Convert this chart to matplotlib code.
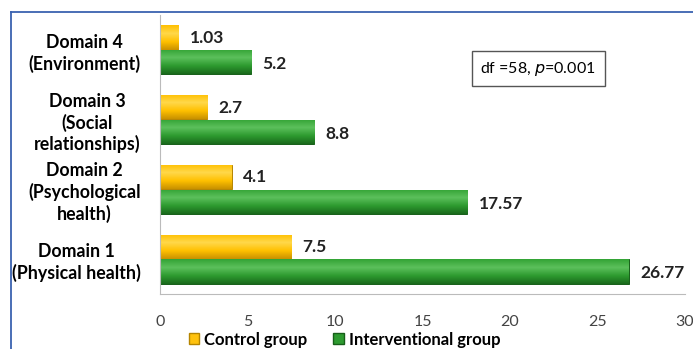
import numpy as np
import matplotlib.pyplot as plt
from matplotlib.lines import Line2D
from matplotlib.patches import Patch
from matplotlib.colors import LinearSegmentedColormap

plt.rcParams['font.family'] = ['Lato', 'DejaVu Sans']

domains = ['Domain 1\n(Physical health)', 'Domain 2\n(Psychological\nhealth)',
           'Domain 3\n(Social\nrelationships)', 'Domain 4\n(Environment)']
control = [7.5, 4.1, 2.7, 1.03]
interventional = [26.77, 17.57, 8.8, 5.2]
control_lbl = ['7.5', '4.1', '2.7', '1.03']
interv_lbl = ['26.77', '17.57', '8.8', '5.2']

yellow, green = '#FFC20E', '#2E9B30'
cm_yellow = LinearSegmentedColormap.from_list('y', ['#C99200', '#FFC000', '#FFD84A', '#FFC000'])
cm_green = LinearSegmentedColormap.from_list('g', ['#1A6A1C', '#2E9B30', '#5CC05C', '#33A335'])

fig = plt.figure(figsize=(6.93, 3.49), dpi=100)
ax = fig.add_axes([0.2309, 0.1576, 0.7576, 0.7994])

y = np.arange(len(domains))
h = 0.345
b1 = ax.barh(y + h / 2 + 0.005, control, height=h, color=yellow, edgecolor='#B58500', linewidth=0.7)
b2 = ax.barh(y - h / 2 - 0.005, interventional, height=h, color=green, edgecolor='#175E19', linewidth=0.7)

# shaded fill to mimic the 3-D look of the original bars
grad = np.linspace(0, 1, 64).reshape(-1, 1)
for bars, cm in [(b1, cm_yellow), (b2, cm_green)]:
    for p in bars:
        x0, y0 = p.get_x(), p.get_y()
        im = ax.imshow(grad, cmap=cm, aspect='auto', origin='lower',
                       extent=[x0, x0 + p.get_width(), y0, y0 + p.get_height()], zorder=p.get_zorder())
        im.set_clip_path(p)

for i in range(len(domains)):
    ax.text(control[i] + 0.65, y[i] + h / 2, control_lbl[i], va='center', ha='left',
            fontsize=12.5, fontweight='bold', color='#222222')
    ax.text(interventional[i] + 0.65, y[i] - h / 2 - 0.03, interv_lbl[i], va='center', ha='left',
            fontsize=12.5, fontweight='bold', color='#222222')

ax.set_xlim(0, 30)
ax.set_ylim(-0.5, 3.5)
ax.set_xticks([0, 5, 10, 15, 20, 25, 30])
ax.set_yticks(y)
ax.set_yticklabels(domains, fontsize=12.8, fontweight='bold', linespacing=1.25, multialignment='center')
ax.tick_params(axis='y', length=0, pad=14)
ax.tick_params(axis='x', length=0, pad=15, labelsize=11.5, labelcolor='#444444')
for s in ['top', 'right']:
    ax.spines[s].set_visible(False)
ax.spines['left'].set_color('#BBBBBB')
ax.spines['bottom'].set_color('#BBBBBB')

ax.text(0.72, 0.808, 'df =58, $\\it{p}$=0.001', transform=ax.transAxes, ha='center', va='center',
        fontsize=11.5, bbox=dict(boxstyle='square,pad=0.55', fc='white', ec='#555555', lw=1))

handles = [Patch(facecolor=yellow, edgecolor='#B58500'), Patch(facecolor=green, edgecolor='#175E19')]
fig.legend(handles, ['Control group', 'Interventional group'], loc='center', bbox_to_anchor=(0.497, 0.027),
           ncol=2, frameon=False, prop={'size': 12, 'weight': 'bold'}, handlelength=0.65, handleheight=0.65,
           handletextpad=0.3, columnspacing=1.5)

# blue frame around the chart
fig.add_artist(Line2D([10.5 / 693, 10.5 / 693], [0, 1 - 11.5 / 349], color='#3A62B0', lw=1.3))
fig.add_artist(Line2D([10.5 / 693, 1], [1 - 11.5 / 349, 1 - 11.5 / 349], color='#3A62B0', lw=1.3))

fig.savefig('out.png', dpi=100)
